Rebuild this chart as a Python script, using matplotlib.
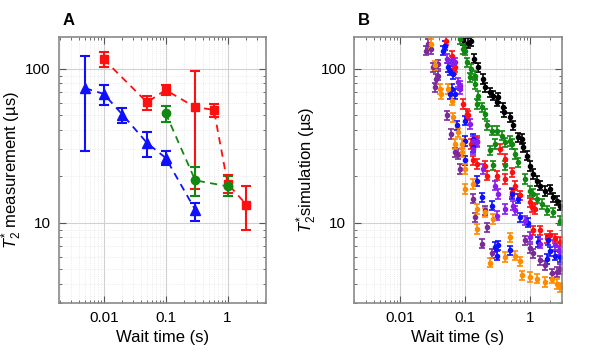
import matplotlib
matplotlib.use("Agg")
import matplotlib.pyplot as plt
from matplotlib.ticker import LogLocator, FuncFormatter, NullFormatter
import numpy as np

plt.rcParams['font.family'] = ['Liberation Sans', 'DejaVu Sans']
plt.rcParams['mathtext.fontset'] = 'custom'
plt.rcParams['mathtext.it'] = 'Liberation Sans:italic'
plt.rcParams['mathtext.rm'] = 'Liberation Sans'

# ---- panel A: measurement ----
blue_t = [0.005, 0.01, 0.02, 0.05, 0.1, 0.3]
blue_y = [74.5, 68.5, 50.3, 32.9, 26.3, 12.1]
blue_lo = [29, 57.8, 44.6, 26.8, 23.8, 10.2]
blue_hi = [120, 78.7, 55.2, 39, 29, 13.3]

red_t = [0.01, 0.05, 0.1, 0.3, 0.6, 1, 2]
red_y = [115, 60.4, 72.6, 56.1, 54, 17.9, 13.1]
red_lo = [102, 54, 67.5, 16.4, 48.3, 15.5, 8.9]
red_hi = [127.6, 66.8, 78.7, 96, 58.6, 20.3, 17.2]

green_t = [0.1, 0.3, 1]
green_y = [51.3, 18.8, 17.2]
green_lo = [44.8, 14.8, 14.8]
green_hi = [57.5, 22.9, 20]

# ---- panel B: simulation ----
black_t = [0.093, 0.111, 0.125, 0.137, 0.158, 0.189, 0.201, 0.24, 0.27, 0.322, 0.304, 0.384, 0.398, 0.488,
           0.547, 0.653, 0.738, 0.78, 0.88, 0.99, 1.11, 1.25, 1.41, 1.68, 2.01, 2.26, 2.55, 2.86]
black_y = [154, 147, 150, 116, 102, 85.7, 75.6, 70.2, 66.8, 65.2, 61.1, 56.1, 52, 48.3,
           42.7, 35.8, 34.9, 30.8, 27.2, 23.4, 20.7, 18.7, 17.4, 16.1, 16.5, 14.6, 13.9, 12.9]

green2_t = [0.083, 0.093, 0.099, 0.105, 0.125, 0.141, 0.118, 0.141, 0.158, 0.15, 0.179, 0.201, 0.213, 0.255,
            0.304, 0.363, 0.286, 0.408, 0.488, 0.518, 0.24, 0.582, 0.654, 0.27, 0.408, 0.83, 0.99, 1.11,
            1.25, 1.5, 1.79, 2.26, 2.86]
green2_y = [156, 134, 131, 110, 99.5, 90.1, 87.9, 79.6, 66.8, 59, 56.1, 50.8, 42.7, 39.6,
            39.6, 36.7, 32.4, 33.2, 34, 32.4, 29.4, 27.9, 24.6, 23.5, 23.5, 19.2, 16.1, 15.4,
            14.3, 13.2, 12, 11.7, 10.3]

red2_t = [0.05, 0.0618, 0.0695, 0.0677, 0.093, 0.105, 0.111, 0.125, 0.15, 0.133, 0.15, 0.201, 0.342, 0.408,
          0.213, 0.304, 0.408, 0.518, 0.582, 0.518, 0.695, 0.99, 1.05, 1.18, 1.11, 1.41, 2.01, 1.79,
          2.4, 2.86]
red2_y = [152, 121, 102, 99.6, 59, 50.8, 49.6, 32.5, 34, 25.3, 24.1, 23.4, 30.1, 25.9,
          20.2, 20.2, 19.2, 21.2, 17.4, 15.7, 15, 13.5, 12.6, 12.3, 8.9, 8.9, 8.3, 7.9,
          7.9, 7.5]

blue2_t = [0.0487, 0.0459, 0.0548, 0.0582, 0.0654, 0.0618, 0.0695, 0.0582, 0.0738, 0.099, 0.099, 0.133,
           0.133, 0.099, 0.15, 0.179, 0.255, 0.518, 0.654, 0.695, 0.93, 0.286, 0.322, 0.488, 0.304,
           1.33, 1.89, 2.01, 1.79, 2.4, 2.86]
blue2_y = [141, 131, 102, 97, 92.4, 73.8, 68.5, 68.5, 42.7, 45.9, 34, 34.9,
           30.8, 25.3, 18.7, 14.6, 12.9, 15.4, 14.3, 10.8, 10, 6.95, 7.1, 6.6, 6.1,
           7.5, 7.7, 6.5, 5.8, 6.1, 6.0]

violet_t = [0.0518, 0.0618, 0.0695, 0.078, 0.083, 0.083, 0.118, 0.133, 0.133, 0.15, 0.189, 0.286, 0.322,
            0.304, 0.408, 0.547, 0.582, 0.83, 0.99, 1.41, 2.4, 2.7]
violet_y = [116, 113, 110, 81.5, 77.6, 73.8, 43.7, 34, 30.1, 33.2, 22.3, 17.4, 15.4,
            11.1, 12.3, 12.9, 12, 10.3, 8.1, 7.3, 7.1, 6.6]

purple_t = [0.027, 0.0255, 0.0304, 0.0322, 0.0384, 0.0384, 0.0363, 0.0342, 0.0518, 0.0603, 0.0695, 0.078,
            0.083, 0.133, 0.141, 0.201, 0.213, 0.179, 0.255, 0.83, 0.99, 1.11, 1.41, 1.68, 2.13, 2.55, 2.86]
purple_y = [145, 131, 134, 102, 107, 90, 85.8, 75.6, 49.6, 37.7, 28.7, 27.9,
            22.3, 14.3, 10.8, 12, 9.3, 7.3, 6.3, 7.7, 6.8, 6.3, 5.7, 5.3, 4.7, 4.8, 5.0]

orange_t = [0.0304, 0.0342, 0.0408, 0.0433, 0.0548, 0.0618, 0.0654, 0.078, 0.0695, 0.088, 0.088, 0.099,
            0.099, 0.133, 0.15, 0.201, 0.27, 0.15, 0.488, 0.24, 0.408, 0.582, 0.695, 0.738, 0.99, 1.25,
            1.68, 2.13, 2.55, 2.86]
orange_y = [145, 105, 73.8, 68.5, 73.8, 61.9, 48.3, 38.6, 32.5, 32.5, 28.7, 22.3,
            16.6, 17.8, 12.3, 11.7, 10.6, 9.1, 8.0, 5.5, 6.0, 6.1, 5.6, 4.55, 4.44, 4.33,
            4.12, 4.33, 4.0, 3.8]

sim_rel_err = 0.07


def style_axes(ax, xlim):
    ax.set_xscale('log')
    ax.set_yscale('log')
    ax.set_xlim(*xlim)
    ax.set_ylim(3, 160)
    ax.xaxis.set_major_locator(LogLocator(base=10, numticks=10))
    ax.xaxis.set_minor_locator(LogLocator(base=10, subs=np.arange(2, 10), numticks=20))
    ax.yaxis.set_major_locator(LogLocator(base=10, numticks=10))
    ax.yaxis.set_minor_locator(LogLocator(base=10, subs=np.arange(2, 10), numticks=20))
    fmt = FuncFormatter(lambda v, p: '%g' % v)
    ax.xaxis.set_major_formatter(fmt)
    ax.yaxis.set_major_formatter(fmt)
    ax.xaxis.set_minor_formatter(NullFormatter())
    ax.yaxis.set_minor_formatter(NullFormatter())
    ax.grid(True, which='major', color='#d0d0d0', lw=0.8)
    ax.grid(True, which='minor', color='#e4e4e4', lw=0.6, ls=':')
    ax.set_axisbelow(True)
    for s in ax.spines.values():
        s.set_color('#8a8a8a')
        s.set_linewidth(1.2)
    ax.tick_params(which='both', direction='in', top=True, right=True, colors='#555555',
                   labelcolor='black', labelsize=11, pad=6)
    ax.tick_params(which='major', length=5)
    ax.tick_params(which='minor', length=2.5)
    ax.set_xlabel('Wait time (s)', fontsize=12, labelpad=3)


fig = plt.figure(figsize=(5.92, 3.57), dpi=100)
axA = fig.add_axes([0.0997, 0.151, 0.350, 0.745])
axB = fig.add_axes([0.5985, 0.151, 0.350, 0.745])

for t, y, lo, hi, c, m, ms in [(blue_t, blue_y, blue_lo, blue_hi, '#1010ff', '^', 7),
                               (red_t, red_y, red_lo, red_hi, '#ff1010', 's', 5.5),
                               (green_t, green_y, green_lo, green_hi, '#118811', 'o', 6)]:
    y = np.array(y)
    err = [y - np.array(lo), np.array(hi) - y]
    axA.errorbar(t, y, yerr=err, color=c, marker=m, ms=ms, ls=(0, (4, 3)), lw=1.3,
                 elinewidth=1.5, capsize=3.5, capthick=1.5)

style_axes(axA, (0.0019, 4.2))
axA.set_ylabel(r'$T_2^{*}$ measurement (µs)', fontsize=12)
axA.yaxis.set_label_coords(-0.17, 0.5)
axA.text(0.015, 1.035, 'A', transform=axA.transAxes, fontsize=12, fontweight='bold', va='bottom')

sim = [(black_t, black_y, 'black'), (green2_t, green2_y, '#118811'), (red2_t, red2_y, '#ff1010'),
       (blue2_t, blue2_y, '#1010ff'), (violet_t, violet_y, '#8a1cf0'), (purple_t, purple_y, '#7a2a9a'),
       (orange_t, orange_y, '#ff8c00')]
for t, y, c in sim:
    y = np.array(y)
    axB.errorbar(t, y, yerr=y * sim_rel_err, color=c, marker='o', ms=3, ls='none',
                 elinewidth=1.2, capsize=2, capthick=1.2)

style_axes(axB, (0.002, 3.0))
axB.set_ylabel(r'$T_2^{*}$simulation (µs)', fontsize=12)
axB.yaxis.set_label_coords(-0.17, 0.5)
axB.text(0.015, 1.035, 'B', transform=axB.transAxes, fontsize=12, fontweight='bold', va='bottom')

fig.savefig('out.png', dpi=100)
